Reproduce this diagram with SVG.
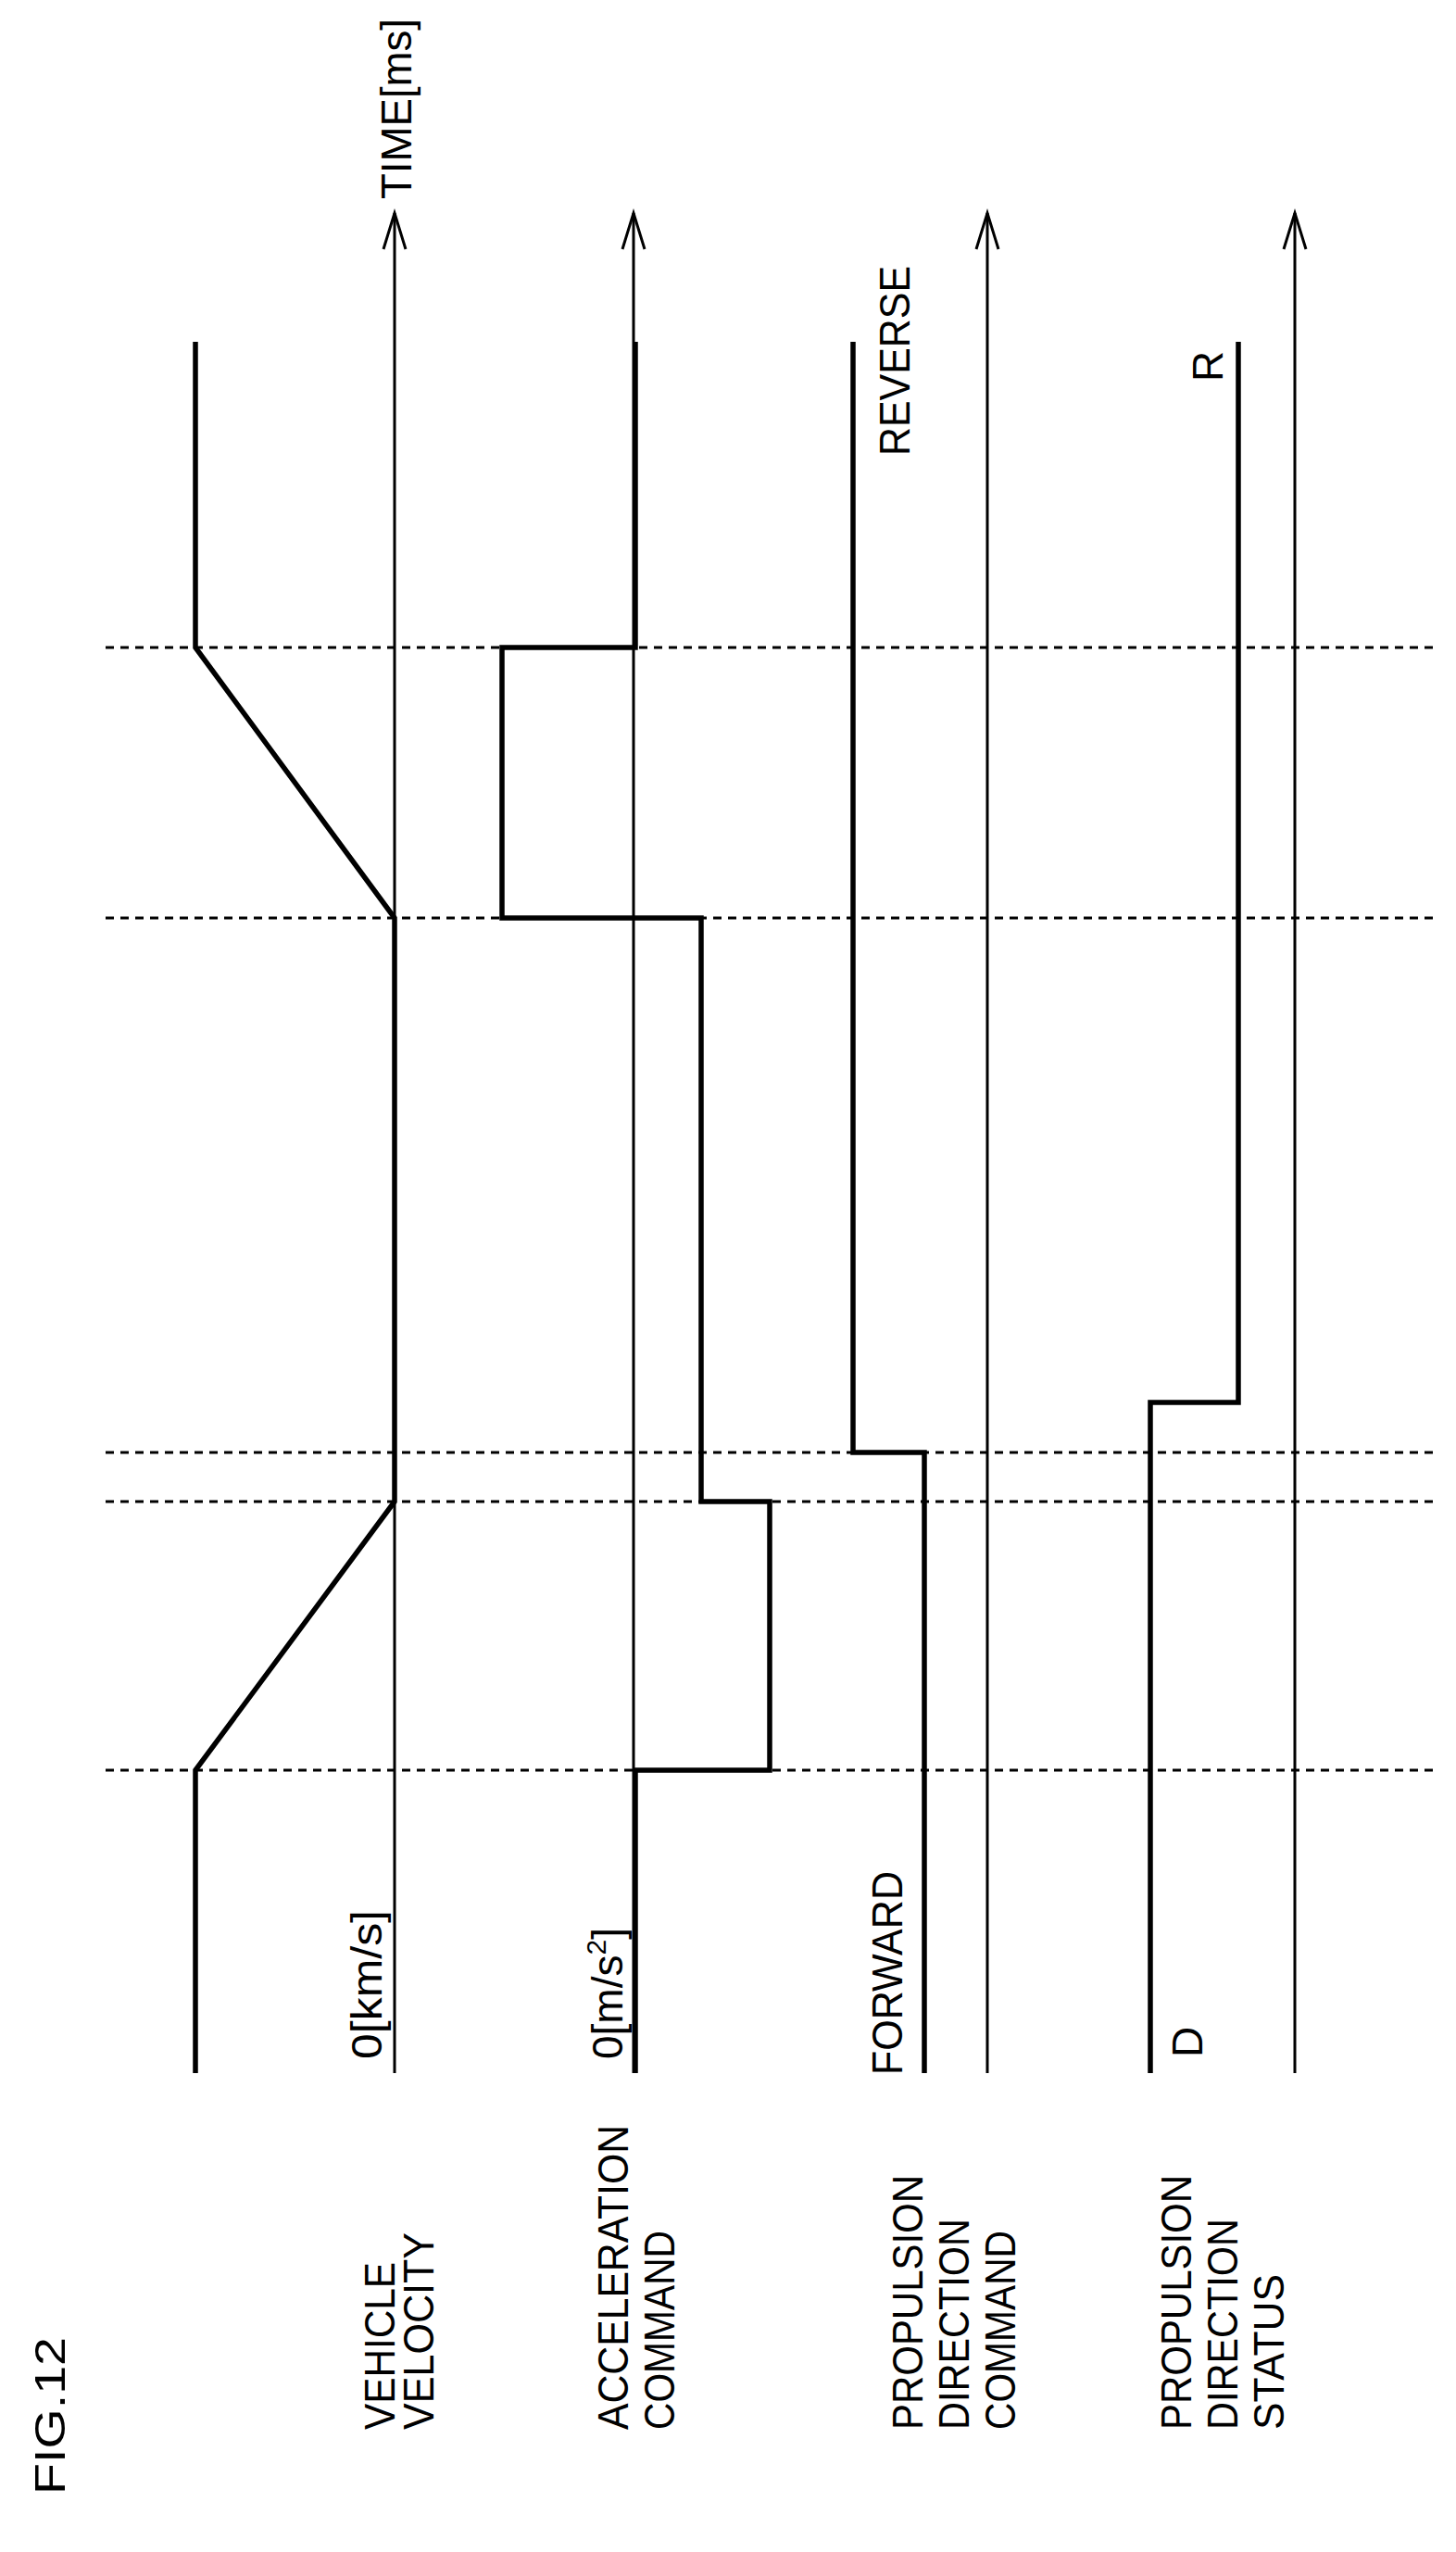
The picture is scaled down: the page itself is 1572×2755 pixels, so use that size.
<svg xmlns="http://www.w3.org/2000/svg" width="1572" height="2755" viewBox="0 0 1572 2755">
<style>
.ax{stroke:#000;stroke-width:3;fill:none}
.sig{stroke:#000;stroke-width:5.5;fill:none;stroke-linejoin:miter}
.dash{stroke:#000;stroke-width:3;stroke-dasharray:9 7;fill:none}
text{font-family:"Liberation Sans",Arial,sans-serif;font-size:46px;fill:#000}
</style>
<rect width="1572" height="2755" fill="#fff"/>
<g id="connectors">
<g id="dashed">
<line class="dash" x1="114" y1="699" x2="1550" y2="699"/>
<line class="dash" x1="114" y1="991" x2="1550" y2="991"/>
<line class="dash" x1="114" y1="1568" x2="1550" y2="1568"/>
<line class="dash" x1="114" y1="1621" x2="1550" y2="1621"/>
<line class="dash" x1="114" y1="1911" x2="1550" y2="1911"/>
</g>
<g id="axes">
<line class="ax" x1="426" y1="2238" x2="426" y2="230"/>
<polyline class="ax" points="414,269 426,230 438,269"/>
<line class="ax" x1="684" y1="2238" x2="684" y2="230"/>
<polyline class="ax" points="672,269 684,230 696,269"/>
<line class="ax" x1="1066" y1="2238" x2="1066" y2="230"/>
<polyline class="ax" points="1054,269 1066,230 1078,269"/>
<line class="ax" x1="1398" y1="2238" x2="1398" y2="230"/>
<polyline class="ax" points="1386,269 1398,230 1410,269"/>
</g>
<g id="signals">
<polyline class="sig" points="211,2238 211,1911 426,1621 426,991 211,699 211,369"/>
<polyline class="sig" points="686,2238 686,1911 831,1911 831,1621 757,1621 757,991 542,991 542,699 686,699 686,369"/>
<polyline class="sig" points="998,2238 998,1568 921,1568 921,369"/>
<polyline class="sig" points="1242,2238 1242,1514 1337,1514 1337,369"/>
</g>
</g>
<g id="labels">
<text transform="translate(70,2693) rotate(-90)" font-size="72" textLength="170" lengthAdjust="spacingAndGlyphs">FIG.12</text>
<text transform="translate(444,215) rotate(-90)" textLength="195" lengthAdjust="spacingAndGlyphs">TIME[ms]</text>
<text transform="translate(982,492) rotate(-90)" textLength="205" lengthAdjust="spacingAndGlyphs">REVERSE</text>
<text transform="translate(1320,412) rotate(-90)">R</text>
<text transform="translate(412,2223) rotate(-90)" textLength="161" lengthAdjust="spacingAndGlyphs">0[km/s]</text>
<text transform="translate(672,2223) rotate(-90)">0[m/s<tspan font-size="30" dy="-18">2</tspan><tspan dy="18">]</tspan></text>
<text transform="translate(974,2240) rotate(-90)" textLength="220" lengthAdjust="spacingAndGlyphs">FORWARD</text>
<text transform="translate(1298,2221) rotate(-90)">D</text>
<g id="n-velocity">
<text transform="translate(426,2623) rotate(-90)" textLength="181" lengthAdjust="spacingAndGlyphs">VEHICLE</text>
<text transform="translate(468,2623) rotate(-90)" textLength="213" lengthAdjust="spacingAndGlyphs">VELOCITY</text>
</g>
<g id="n-accel">
<text transform="translate(678,2623) rotate(-90)" textLength="329" lengthAdjust="spacingAndGlyphs">ACCELERATION</text>
<text transform="translate(728,2623) rotate(-90)" textLength="215" lengthAdjust="spacingAndGlyphs">COMMAND</text>
</g>
<g id="n-propcmd">
<text transform="translate(996,2623) rotate(-90)" textLength="275" lengthAdjust="spacingAndGlyphs">PROPULSION</text>
<text transform="translate(1046,2623) rotate(-90)" textLength="228" lengthAdjust="spacingAndGlyphs">DIRECTION</text>
<text transform="translate(1096,2623) rotate(-90)" textLength="215" lengthAdjust="spacingAndGlyphs">COMMAND</text>
</g>
<g id="n-status">
<text transform="translate(1286,2623) rotate(-90)" textLength="275" lengthAdjust="spacingAndGlyphs">PROPULSION</text>
<text transform="translate(1336,2623) rotate(-90)" textLength="228" lengthAdjust="spacingAndGlyphs">DIRECTION</text>
<text transform="translate(1386,2623) rotate(-90)" textLength="168" lengthAdjust="spacingAndGlyphs">STATUS</text>
</g>
</g>
</svg>
